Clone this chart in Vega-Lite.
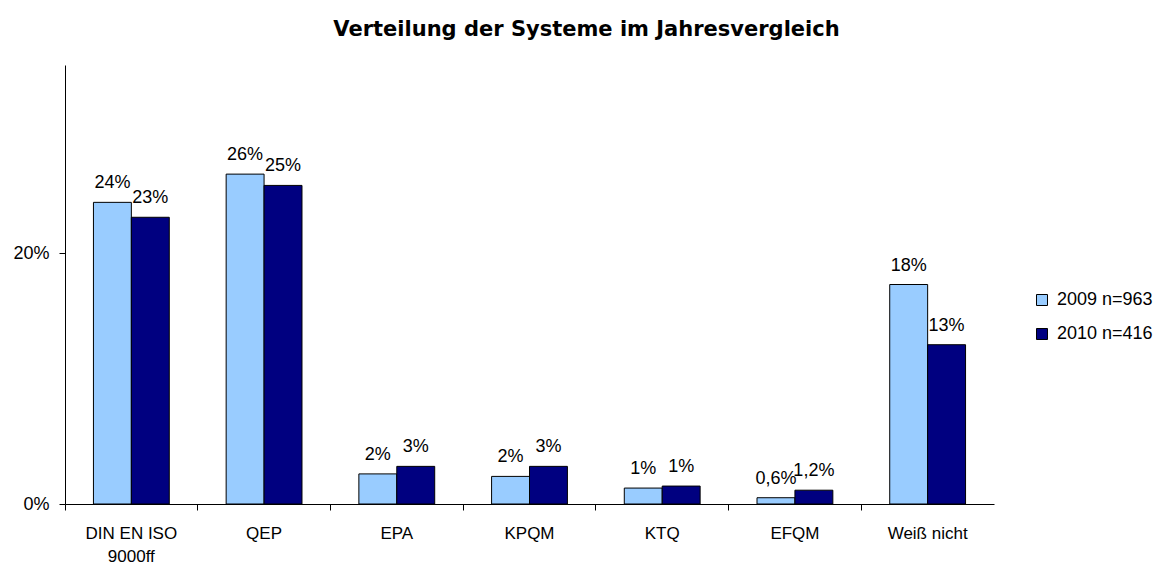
{
  "$schema": "https://vega.github.io/schema/vega-lite/v6.json",
  "autosize": "none",
  "width": 929,
  "height": 439,
  "padding": {"left": 65, "top": 65, "right": 175, "bottom": 62},
  "background": "white",
  "config": {
    "font": "Liberation Sans",
    "view": {"stroke": null}
  },
  "title": {
    "text": "Verteilung der Systeme im Jahresvergleich",
    "fontSize": 21,
    "fontWeight": "bold",
    "font": "DejaVu Sans",
    "color": "black",
    "anchor": "middle",
    "offset": 25,
    "dx": 57
  },
  "data": {
    "values": [
      {"system": "DIN EN ISO 9000ff", "jahr": "2009 n=963", "wert": 0.2405, "label": "24%"},
      {"system": "DIN EN ISO 9000ff", "jahr": "2010 n=416", "wert": 0.2286, "label": "23%"},
      {"system": "QEP", "jahr": "2009 n=963", "wert": 0.263, "label": "26%"},
      {"system": "QEP", "jahr": "2010 n=416", "wert": 0.254, "label": "25%"},
      {"system": "EPA", "jahr": "2009 n=963", "wert": 0.024, "label": "2%"},
      {"system": "EPA", "jahr": "2010 n=416", "wert": 0.030, "label": "3%"},
      {"system": "KPQM", "jahr": "2009 n=963", "wert": 0.022, "label": "2%"},
      {"system": "KPQM", "jahr": "2010 n=416", "wert": 0.030, "label": "3%"},
      {"system": "KTQ", "jahr": "2009 n=963", "wert": 0.0127, "label": "1%"},
      {"system": "KTQ", "jahr": "2010 n=416", "wert": 0.0143, "label": "1%"},
      {"system": "EFQM", "jahr": "2009 n=963", "wert": 0.005, "label": "0,6%"},
      {"system": "EFQM", "jahr": "2010 n=416", "wert": 0.011, "label": "1,2%"},
      {"system": "Weiß nicht", "jahr": "2009 n=963", "wert": 0.175, "label": "18%"},
      {"system": "Weiß nicht", "jahr": "2010 n=416", "wert": 0.127, "label": "13%"}
    ]
  },
  "encoding": {
    "x": {
      "field": "system",
      "type": "nominal",
      "sort": null,
      "scale": {"paddingInner": 0, "paddingOuter": 0},
      "axis": {
        "title": null,
        "labelAngle": 0,
        "bandPosition": 0,
        "domainColor": "black",
        "tickColor": "black",
        "tickSize": 6,
        "labelFontSize": 17,
        "labelColor": "black",
        "labelPadding": 15,
        "labelLineHeight": 23,
        "labelExpr": "datum.value == 'DIN EN ISO 9000ff' ? ['DIN EN ISO', '9000ff'] : datum.label"
      }
    },
    "xOffset": {
      "field": "jahr",
      "type": "nominal",
      "scale": {"paddingInner": 0, "paddingOuter": 0.75}
    },
    "y": {
      "field": "wert",
      "type": "quantitative",
      "scale": {"domain": [0, 0.35], "nice": false},
      "axis": {
        "title": null,
        "values": [0, 0.2],
        "format": ".0%",
        "grid": false,
        "domainColor": "black",
        "tickColor": "black",
        "tickSize": 6,
        "labelFontSize": 18,
        "labelColor": "black",
        "labelPadding": 10
      }
    }
  },
  "layer": [
    {
      "mark": {"type": "bar", "stroke": "black", "strokeWidth": 1},
      "encoding": {
        "color": {
          "field": "jahr",
          "type": "nominal",
          "scale": {"range": ["#99CCFF", "#000080"]},
          "legend": {
            "title": null,
            "orient": "none",
            "legendX": 968,
            "legendY": 226,
            "symbolType": "square",
            "symbolSize": 121,
            "symbolStrokeColor": "black",
            "symbolStrokeWidth": 1,
            "labelFontSize": 18,
            "labelColor": "black",
            "labelOffset": 6,
            "rowPadding": 16
          }
        }
      }
    },
    {
      "mark": {"type": "text", "baseline": "alphabetic", "dy": -14, "fontSize": 18, "color": "black"},
      "encoding": {
        "text": {"field": "label"}
      }
    }
  ]
}
